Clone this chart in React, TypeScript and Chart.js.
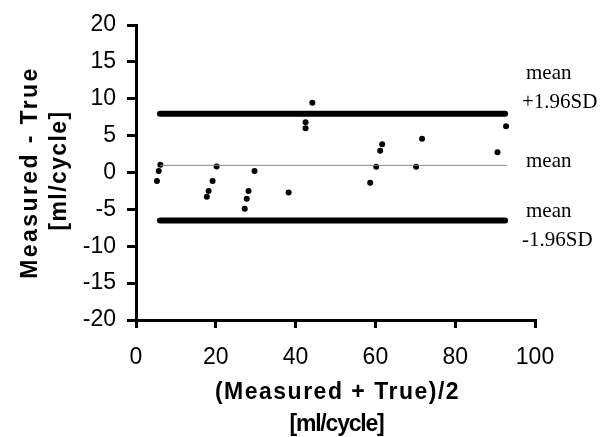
import React, { useEffect, useRef } from "react";
import { Chart, registerables } from "chart.js";

Chart.register(...registerables);

// Bland-Altman data
const avgValues = [5.25, 5.7, 6.1, 17.75, 18.2, 19.2, 20.2, 27.25, 27.75, 28.2, 29.7, 38.25, 42.5, 42.5, 44.2, 58.7, 60.2, 61.2, 61.7, 70.2, 71.7, 90.6, 92.75];
const diffValues = [-1.15, 0.2, 1.06, -3.3, -2.5, -1.15, 0.8, -4.9, -3.55, -2.5, 0.2, -2.7, 6.0, 6.8, 9.47, -1.38, 0.79, 2.96, 3.82, 0.79, 4.58, 2.74, 6.26];

const meanDiff = 0.97;
const upperLimit = 7.95;
const lowerLimit = -6.5;
const lineStartX = [6, 92.5];
const meanLineX = [6, 93];

const xTitleLines = ["(Measured + True)/2", "[ml/cycle]"];
const yTitleLines = ["Measured - True", "[ml/cycle]"];
const upperLabels = ["mean", "+1.96SD"];
const meanLabels = ["mean"];
const lowerLabels = ["mean", "-1.96SD"];

const SANS = '"Liberation Sans", Arial, Helvetica, sans-serif';
const SERIF = '"Liberation Serif", "Times New Roman", serif';

const textPlugin = {
  id: "customText",
  afterDraw(chart: any) {
    const { ctx, chartArea, scales } = chart;
    const ys = scales.y;
    ctx.save();
    ctx.fillStyle = "#000";
    // x title
    const cx = (chartArea.left + chartArea.right) / 2;
    ctx.textAlign = "center";
    ctx.textBaseline = "middle";
    ctx.font = `bold 23px ${SANS}`;
    ctx.letterSpacing = "1.5px";
    ctx.fillText(xTitleLines[0], cx + 2, chartArea.bottom + 73);
    ctx.letterSpacing = "-1.2px";
    ctx.fillText(xTitleLines[1], cx + 1, chartArea.bottom + 105);
    // y title
    const cy = (chartArea.top + chartArea.bottom) / 2;
    ctx.save();
    ctx.translate(31, cy);
    ctx.rotate(-Math.PI / 2);
    ctx.letterSpacing = "2.4px";
    ctx.fillText(yTitleLines[0], 0, 0);
    ctx.restore();
    ctx.save();
    ctx.translate(60, cy - 2);
    ctx.rotate(-Math.PI / 2);
    ctx.letterSpacing = "1.4px";
    ctx.fillText(yTitleLines[1], 0, 0);
    ctx.restore();
    // right labels
    ctx.letterSpacing = "0px";
    ctx.textAlign = "left";
    ctx.textBaseline = "alphabetic";
    ctx.font = `21px ${SERIF}`;
    const r = chartArea.right;
    const yu = ys.getPixelForValue(upperLimit);
    const ym = ys.getPixelForValue(meanDiff);
    const yl = ys.getPixelForValue(lowerLimit);
    ctx.fillText(upperLabels[0], r - 9, yu - 35);
    ctx.fillText(upperLabels[1], r - 13, yu - 6);
    ctx.fillText(meanLabels[0], r - 9, ym + 2);
    ctx.fillText(lowerLabels[0], r - 9, yl - 3);
    ctx.fillText(lowerLabels[1], r - 13, yl + 26);
    ctx.restore();
  },
};

export default function App() {
  const ref = useRef<HTMLCanvasElement>(null);
  useEffect(() => {
    if (!ref.current) return;
    const points = avgValues.map((x, i) => ({ x, y: diffValues[i] }));
    const chart = new Chart(ref.current, {
      type: "scatter",
      data: {
        datasets: [
          {
            data: [
              { x: lineStartX[0], y: upperLimit },
              { x: lineStartX[1], y: upperLimit },
            ],
            showLine: true,
            borderColor: "#000",
            borderWidth: 6,
            borderCapStyle: "round",
            pointRadius: 0,
          },
          {
            data: [
              { x: lineStartX[0], y: lowerLimit },
              { x: lineStartX[1], y: lowerLimit },
            ],
            showLine: true,
            borderColor: "#000",
            borderWidth: 6,
            borderCapStyle: "round",
            pointRadius: 0,
          },
          {
            data: [
              { x: meanLineX[0], y: meanDiff },
              { x: meanLineX[1], y: meanDiff },
            ],
            showLine: true,
            borderColor: "#888",
            borderWidth: 1,
            pointRadius: 0,
          },
          {
            data: points,
            backgroundColor: "#000",
            borderColor: "#000",
            pointRadius: 3,
            borderWidth: 0,
          },
        ],
      } as any,
      options: {
        animation: false,
        responsive: false,
        devicePixelRatio: 1,
        layout: { padding: { top: 25, right: 69, left: 0, bottom: 0 } },
        plugins: { legend: { display: false }, tooltip: { enabled: false } },
        scales: {
          x: {
            type: "linear",
            min: 0,
            max: 100,
            ticks: { stepSize: 20, color: "#000", font: { family: SANS, size: 23 }, padding: 16, maxRotation: 0 },
            grid: { drawOnChartArea: false, drawTicks: true, tickLength: 8, lineWidth: 3, color: "#000" },
            border: { display: true, width: 3, color: "#000" },
            afterFit: (s: any) => {
              s.height = 117;
            },
          },
          y: {
            type: "linear",
            min: -20,
            max: 20,
            ticks: { stepSize: 5, color: "#000", font: { family: SANS, size: 23 }, padding: 11 },
            grid: { drawOnChartArea: false, drawTicks: true, tickLength: 9, lineWidth: 3, color: "#000" },
            border: { display: true, width: 3, color: "#000" },
            afterFit: (s: any) => {
              s.width = 136;
            },
          },
        },
      } as any,
      plugins: [textPlugin],
    });
    return () => chart.destroy();
  }, []);
  return (
    <div style={{ position: "fixed", left: 0, top: 0, width: 604, height: 437, background: "#fff" }}>
      <canvas ref={ref} width={604} height={437} style={{ display: "block" }} />
    </div>
  );
}
